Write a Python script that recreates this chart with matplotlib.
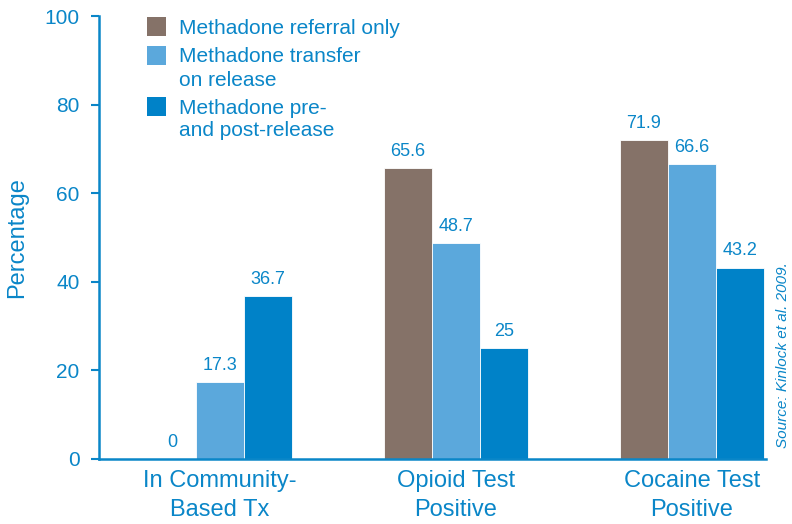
import numpy as np
import matplotlib.pyplot as plt
from matplotlib.patches import Rectangle

categories = ["In Community-\nBased Tx", "Opioid Test\nPositive", "Cocaine Test\nPositive"]
series_names = ["Methadone referral only", "Methadone transfer\non release",
                "Methadone pre-\nand post-release"]
referral = [0, 65.6, 71.9]
transfer = [17.3, 48.7, 66.6]
pre_post = [36.7, 25, 43.2]

colors = ["#857268", "#5BA8DC", "#0082C8"]
text_col = "#0A86C8"

plt.rcParams["font.family"] = ["Liberation Sans", "DejaVu Sans"]

W, H = 792, 524
fig = plt.figure(figsize=(W / 100, H / 100), dpi=100)
ax = fig.add_axes([99 / W, 65 / H, 667 / W, 443 / H])

x = np.arange(len(categories))
w = 0.2034
for i, (vals, c) in enumerate(zip([referral, transfer, pre_post], colors)):
    bars = ax.bar(x + (i - 1) * w, vals, w, color=c, edgecolor="white", linewidth=0.6)
    ax.bar_label(bars, labels=[f"{v:g}" for v in vals], padding=6,
                 color=text_col, fontsize=13)

ax.set_xlim(-0.513, 2.314)
ax.set_ylim(0, 100)
ax.set_yticks(range(0, 101, 20))
ax.set_xticks(x)
ax.set_xticklabels(categories, fontsize=17, color=text_col, linespacing=1.4)
ax.tick_params(axis="x", length=0, pad=8)
ax.tick_params(axis="y", length=6, width=1.5, color=text_col, labelcolor=text_col,
               labelsize=15, pad=8)
for s in ["top", "right"]:
    ax.spines[s].set_visible(False)
for s in ["left", "bottom"]:
    ax.spines[s].set_color(text_col)
    ax.spines[s].set_linewidth(1.8)
ax.set_ylabel("Percentage", fontsize=17, color=text_col)
ax.yaxis.set_label_coords(-0.106, 0.5)

# legend drawn by hand (figure pixel positions)
sq_tops = [17, 46, 97]
for c, name, top in zip(colors, series_names, sq_tops):
    fig.patches.append(Rectangle((147 / W, 1 - (top + 19) / H), 19 / W, 19 / H,
                                 transform=fig.transFigure, facecolor=c, edgecolor="none"))
    for k, line in enumerate(name.split("\n")):
        yc = top + 9 + k * 23
        fig.text(179 / W, 1 - yc / H, line, fontsize=15, color=text_col,
                 ha="left", va="center_baseline")

fig.text(783 / W, 1 - 355 / H, "Source: Kinlock et al. 2009.", rotation=90, style="italic",
         color=text_col, fontsize=11, ha="center", va="center")

fig.savefig("out.png", dpi=100)
